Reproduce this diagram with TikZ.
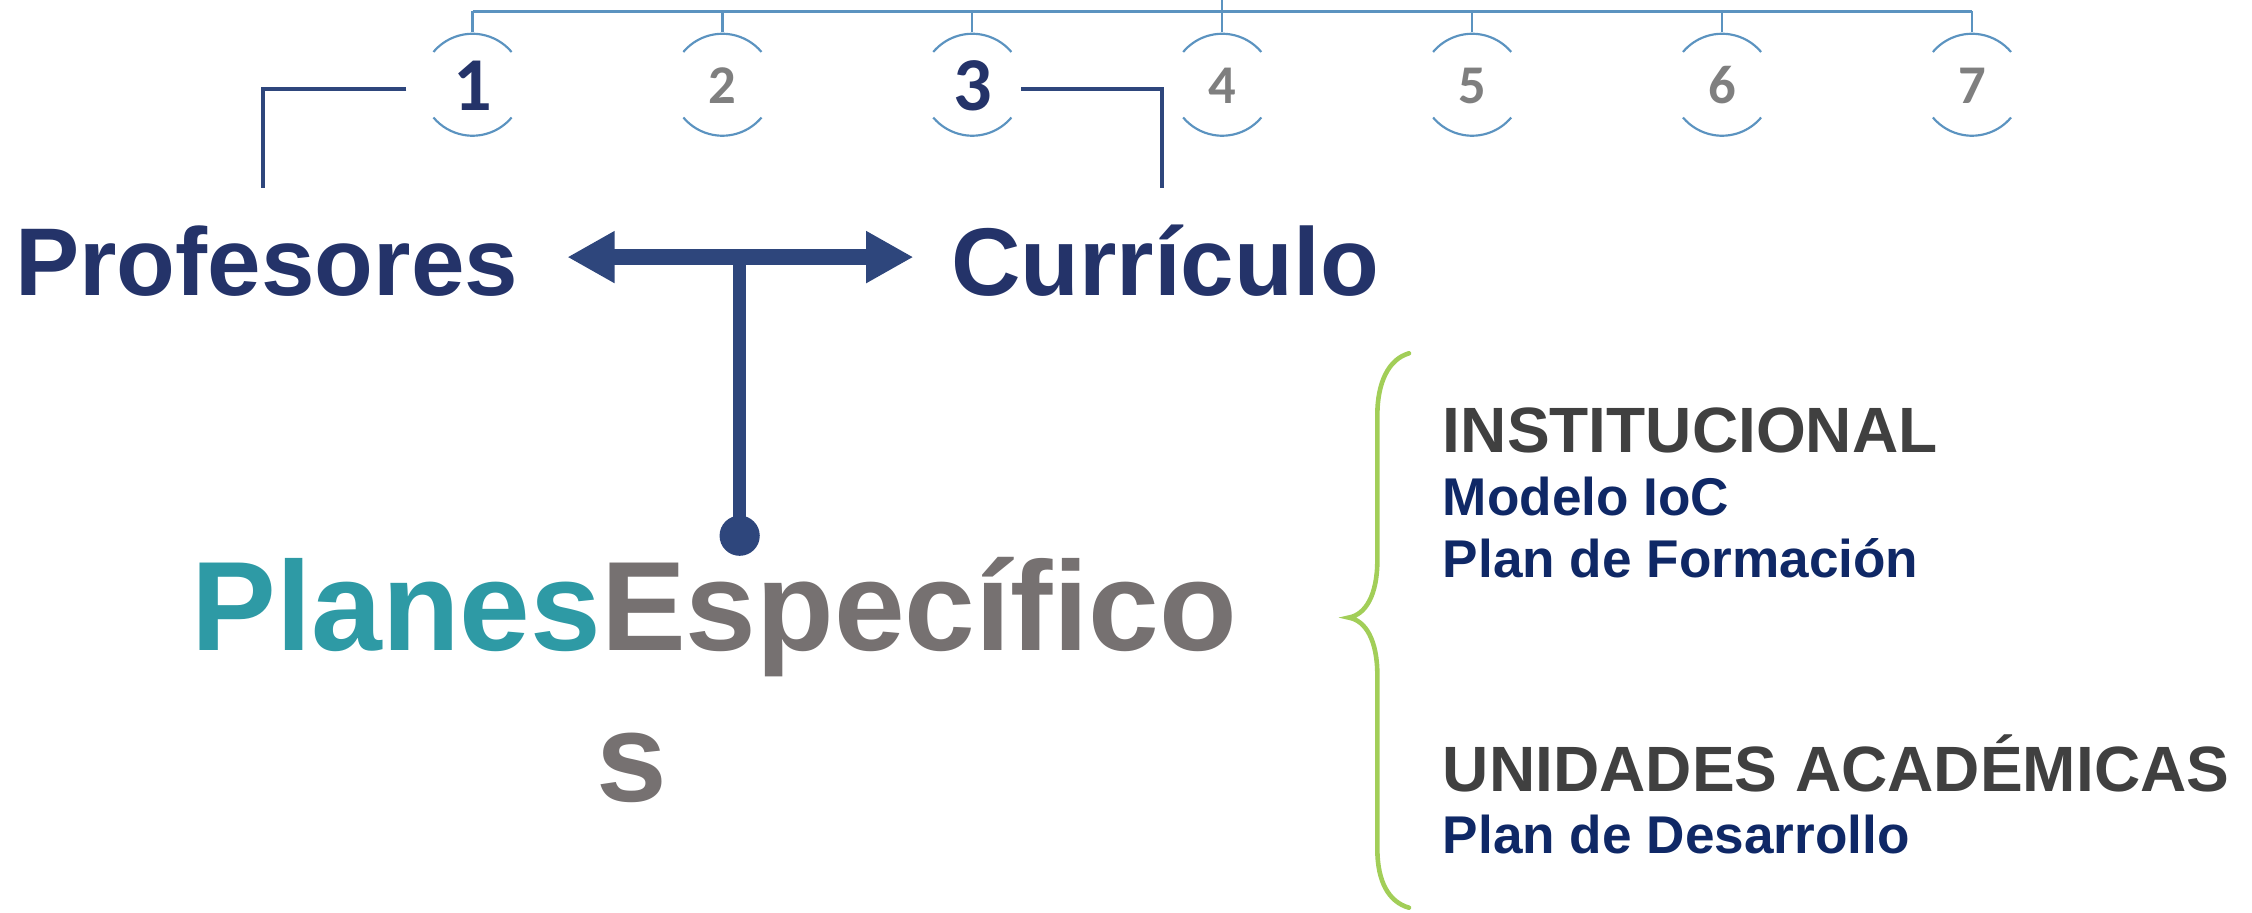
\documentclass[tikz,border=0pt]{standalone}
\usepackage{fontspec}
\setmainfont{Liberation Sans}
\newfontfamily\numfont{Carlito}
\usetikzlibrary{arrows.meta}
\definecolor{txtnavy}{HTML}{243369}
\definecolor{arrnavy}{HTML}{2E467C}
\definecolor{teal}{HTML}{2E9AA5}
\definecolor{warmgray}{HTML}{767171}
\definecolor{numgray}{HTML}{7F7F7F}
\definecolor{lineblue}{HTML}{5B93C0}
\definecolor{darkgray}{HTML}{404040}
\definecolor{rnavy}{HTML}{0F2866}
\definecolor{bracegreen}{HTML}{A2CE58}
\tikzset{
  txt/.style={inner sep=0pt, anchor=base west},
  bignum/.style={inner sep=0pt, anchor=base, text=txtnavy, font=\numfont\bfseries\fontsize{53}{53}\selectfont},
  smallnum/.style={inner sep=0pt, anchor=base, text=numgray, font=\numfont\bfseries\fontsize{38}{38}\selectfont},
  topline/.style={draw=lineblue, line width=1.5pt},
  ring/.style={draw=lineblue, line width=1.5pt},
  bracket/.style={draw=arrnavy, line width=3pt},
  dblarrow/.style={draw=arrnavy, line width=11pt, {Triangle[length=33pt,width=34pt]}-{Triangle[length=33pt,width=34pt]}},
  stem/.style={draw=arrnavy, line width=9.5pt},
  brace/.style={draw=bracegreen, line width=3.2pt, line cap=round},
  maintext/.style={txt, font=\bfseries\fontsize{67}{67}\selectfont, text=txtnavy},
  bigtext/.style={txt, font=\bfseries\fontsize{88.5}{88.5}\selectfont},
  headtext/.style={txt, font=\bfseries\fontsize{44.6}{44.6}\selectfont, text=darkgray},
  subtext/.style={txt, font=\bfseries\fontsize{37}{37}\selectfont, text=rnavy}
}
\begin{document}
\begin{tikzpicture}[x=1pt,y=-1pt]
\useasboundingbox (0,0) rectangle (1568,635);
% top connector bar
\coordinate (stub) at (851,0);
\coordinate (barL) at (329,8);
\coordinate (barR) at (1373,8);
\coordinate (barM) at (851,8);
\draw[topline] (barL) -- (barR);
\draw[topline] (stub) -- (barM);
% numbered rings
\foreach \k/\x in {1/329,2/503,3/677,4/851,5/1025,6/1199,7/1373}{
  \coordinate (c\k) at (\x,59);
  \coordinate (t\k) at (\x,8);
  \draw[topline] (t\k) -- ++(0,14.5);
  \draw[ring] (c\k) ++(220:35.5) arc[start angle=220,end angle=320,radius=35.5];
  \draw[ring] (c\k) ++(40:35.5) arc[start angle=40,end angle=140,radius=35.5];
}
\node[bignum] (n1) at (329,77) {1};
\node[smallnum] (n2) at (503,72) {2};
\node[bignum] (n3) at (677,77) {3};
\node[smallnum] (n4) at (851,72) {4};
\node[smallnum] (n5) at (1025,72) {5};
\node[smallnum] (n6) at (1199,72) {6};
\node[smallnum] (n7) at (1373,72) {7};
% main labels
\node[maintext] (prof) at (10.5,206) {Profesores};
\node[maintext] (curr) at (662,206) {Currículo};
% brackets
\coordinate (bL1) at (283,62);
\coordinate (bL2) at (183,62);
\coordinate (bL3) at (183,131);
\coordinate (bR1) at (711,62);
\coordinate (bR2) at (809,62);
\coordinate (bR3) at (809,131);
\draw[bracket] (bL1) -- (bL2) -- (bL3);
\draw[bracket] (bR1) -- (bR2) -- (bR3);
% double arrow and stem
\coordinate (aL) at (395,179);
\coordinate (aR) at (636,179);
\coordinate (stemtop) at (515,179);
\node[circle, fill=arrnavy, inner sep=0pt, minimum size=28pt] (dot) at (515,373) {};
\draw[stem] (stemtop) -- (dot.center);
\draw[dblarrow] (aL) -- (aR);
% Planes Especificos
\node[bigtext] (planes) at (133,452.6) {\textcolor{teal}{Planes}\textcolor{warmgray}{Específico}};
\node[bigtext, text=warmgray] (ses) at (415,558) {s};
% brace
\draw[brace] (981,246) .. controls (967,250) and (959,266) .. (959,289)
  -- (959,390) .. controls (959,414) and (951,428) .. (939,430)
  .. controls (951,432) and (959,446) .. (959,470)
  -- (959,591) .. controls (959,614) and (967,628) .. (981,632);
% right texts
\node[headtext] (inst) at (1004.5,315) {INSTITUCIONAL};
\node[subtext] (ioc) at (1004.5,359) {Modelo IoC};
\node[subtext] (form) at (1004.5,402) {Plan de Formación};
\node[headtext] (unid) at (1004.5,551) {UNIDADES ACADÉMICAS};
\node[subtext] (desa) at (1004.5,594) {Plan de Desarrollo};
\end{tikzpicture}
\end{document}
